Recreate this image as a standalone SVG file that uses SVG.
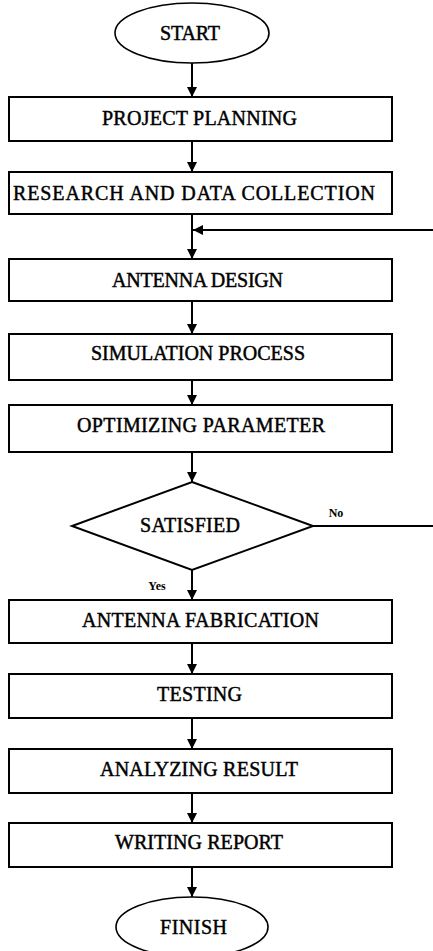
<svg xmlns="http://www.w3.org/2000/svg" width="433" height="951" viewBox="0 0 433 951">
<style>
.box{fill:#fff;stroke:#000;stroke-width:2}
.term{fill:#fff;stroke:#000;stroke-width:1.6}
.t{font-family:"Liberation Serif","Times New Roman",serif;font-size:20px;fill:#000;stroke:#000;stroke-width:0.45;text-anchor:middle}
.s{font-family:"Liberation Serif","Times New Roman",serif;font-size:12px;font-weight:bold;fill:#000;text-anchor:middle}
.c{fill:none;stroke:#000;stroke-width:2}
</style>
<defs>
<marker id="ah" viewBox="0 0 10 10" refX="10" refY="5" markerWidth="5" markerHeight="5" orient="auto" markerUnits="strokeWidth">
<path d="M0,0 L10,5 L0,10 z" fill="#000"/>
</marker>
</defs>
<rect width="433" height="951" fill="#fff"/>
<g id="connectors">
<line class="c" x1="192" y1="63" x2="192" y2="97" marker-end="url(#ah)"/>
<line class="c" x1="192" y1="141" x2="192" y2="172" marker-end="url(#ah)"/>
<line class="c" x1="192" y1="214" x2="192" y2="259" marker-end="url(#ah)"/>
<line class="c" x1="433" y1="230" x2="193" y2="230" marker-end="url(#ah)"/>
<line class="c" x1="192" y1="301" x2="192" y2="334" marker-end="url(#ah)"/>
<line class="c" x1="192" y1="380" x2="192" y2="405" marker-end="url(#ah)"/>
<line class="c" x1="192" y1="452" x2="192" y2="482" marker-end="url(#ah)"/>
<line class="c" x1="313" y1="526" x2="433" y2="526"/>
<line class="c" x1="192" y1="570" x2="192" y2="600" marker-end="url(#ah)"/>
<line class="c" x1="192" y1="643" x2="192" y2="674" marker-end="url(#ah)"/>
<line class="c" x1="192" y1="718" x2="192" y2="749" marker-end="url(#ah)"/>
<line class="c" x1="192" y1="793" x2="192" y2="823" marker-end="url(#ah)"/>
<line class="c" x1="192" y1="867" x2="192" y2="897" marker-end="url(#ah)"/>
<text class="s" x="336" y="517">No</text>
<text class="s" x="157" y="590">Yes</text>
</g>
<g id="start">
<ellipse class="term" cx="192" cy="33" rx="77" ry="30"/>
<text class="t" x="190" y="40" textLength="60">START</text>
</g>
<g id="project-planning">
<rect class="box" x="9" y="97" width="383" height="44"/>
<text class="t" x="199.5" y="125" textLength="195">PROJECT PLANNING</text>
</g>
<g id="research">
<rect class="box" x="9" y="172" width="383" height="42"/>
<text class="t" x="194" y="200" textLength="362">RESEARCH AND DATA COLLECTION</text>
</g>
<g id="antenna-design">
<rect class="box" x="9" y="259" width="383" height="42"/>
<text class="t" x="197.5" y="287" textLength="171">ANTENNA DESIGN</text>
</g>
<g id="simulation">
<rect class="box" x="9" y="334" width="383" height="46"/>
<text class="t" x="198" y="360" textLength="214">SIMULATION PROCESS</text>
</g>
<g id="optimizing">
<rect class="box" x="9" y="405" width="383" height="47"/>
<text class="t" x="201" y="432" textLength="248">OPTIMIZING PARAMETER</text>
</g>
<g id="satisfied">
<polygon class="box" points="192,482 313,526 192,570 72,526"/>
<text class="t" x="190" y="532" textLength="100">SATISFIED</text>
</g>
<g id="fabrication">
<rect class="box" x="9" y="600" width="383" height="43"/>
<text class="t" x="200.5" y="627" textLength="237">ANTENNA FABRICATION</text>
</g>
<g id="testing">
<rect class="box" x="9" y="674" width="383" height="44"/>
<text class="t" x="199.5" y="701" textLength="85">TESTING</text>
</g>
<g id="analyzing">
<rect class="box" x="9" y="749" width="383" height="44"/>
<text class="t" x="199" y="776" textLength="198">ANALYZING RESULT</text>
</g>
<g id="writing">
<rect class="box" x="9" y="823" width="383" height="44"/>
<text class="t" x="199" y="849" textLength="168">WRITING REPORT</text>
</g>
<g id="finish">
<ellipse class="term" cx="192" cy="927" rx="76" ry="30"/>
<text class="t" x="193.5" y="934" textLength="67">FINISH</text>
</g>
</svg>
